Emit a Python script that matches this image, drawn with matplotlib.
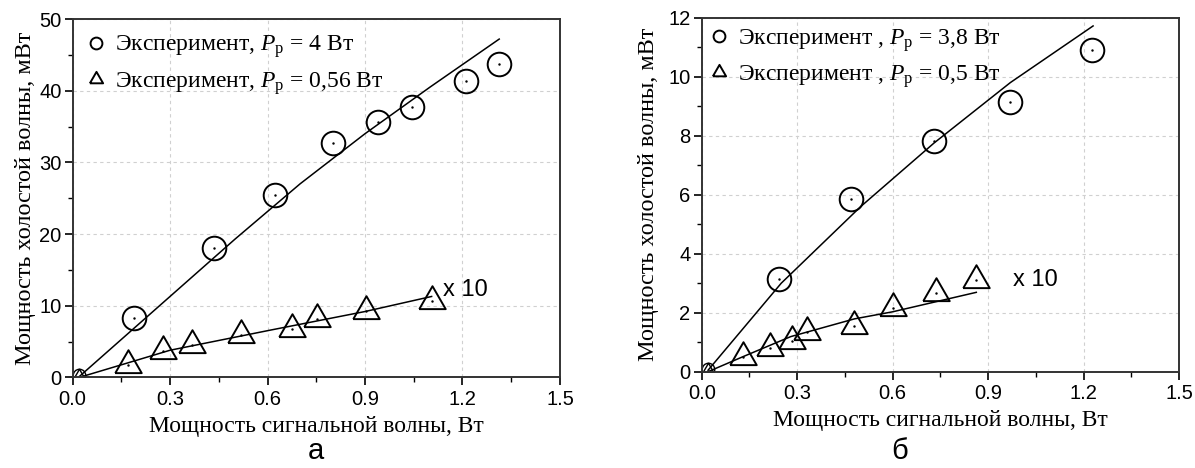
import numpy as np
import matplotlib
matplotlib.use("Agg")
import matplotlib.pyplot as plt
from matplotlib.ticker import MultipleLocator

plt.rcParams["mathtext.fontset"] = "custom"
plt.rcParams["mathtext.rm"] = "Liberation Serif"
plt.rcParams["mathtext.it"] = "Liberation Serif:italic"

SERIF = "Liberation Serif"
SANS = "Liberation Sans"

# panel (а): pump 4 W and 0.56 W (the latter scaled x10)
a_circ_x = [0.19, 0.436, 0.623, 0.80, 0.939, 1.046, 1.21, 1.313]
a_circ_y = [8.3, 18.0, 25.4, 32.7, 35.7, 37.7, 41.4, 43.7]
a_tri_x = [0.170, 0.279, 0.369, 0.519, 0.676, 0.751, 0.902, 1.105]
a_tri_y = [1.8, 3.7, 4.6, 5.9, 6.8, 8.2, 9.3, 10.7]
a_fit_circ_x = [0.02, 0.5, 0.7, 0.9, 1.1, 1.313]
a_fit_circ_y = [0.1, 19.3, 27.0, 34.0, 40.5, 47.2]
a_fit_tri_x = [0.02, 0.3, 0.608, 0.9, 1.105]
a_fit_tri_y = [0.0, 3.8, 6.6, 9.2, 11.3]

# panel (б): pump 3.8 W and 0.5 W (the latter scaled x10)
b_circ_x = [0.244, 0.468, 0.729, 0.968, 1.228]
b_circ_y = [3.14, 5.84, 7.83, 9.15, 10.9]
b_tri_x = [0.129, 0.214, 0.283, 0.33, 0.479, 0.60, 0.735, 0.863]
b_tri_y = [0.5, 0.79, 1.05, 1.34, 1.56, 2.15, 2.66, 3.11]
b_fit_circ_x = [0.02, 0.25, 0.5, 0.73, 0.97, 1.23]
b_fit_circ_y = [0.05, 3.0, 5.6, 7.75, 9.8, 11.72]
b_fit_tri_x = [0.02, 0.13, 0.28, 0.48, 0.6, 0.863]
b_fit_tri_y = [0.0, 0.51, 1.19, 1.79, 2.03, 2.69]

# equilateral triangle, centred on its centroid
TRI = [(-1.0, -0.577), (1.0, -0.577), (0.0, 1.155), (-1.0, -0.577)]

fig = plt.figure(figsize=(11.95, 4.68), dpi=100)
ax_a = fig.add_axes([0.0607, 0.1934, 0.4079, 0.766])
ax_b = fig.add_axes([0.5872, 0.2058, 0.3994, 0.7564])


def draw_panel(ax, cx, cy, tx, ty, fcx, fcy, ftx, fty, zero_y,
               ymax, ymajor, labels, leg_anchor, ylabelpad,
               x10_pos, caption, cap_x):
    ax.plot(fcx, fcy, color="black", lw=1.1)
    ax.plot(ftx, fty, color="black", lw=1.1)
    hc, = ax.plot(cx, cy, ls="none", marker="o", ms=17, mfc="none",
                  mec="black", mew=1.4)
    ht, = ax.plot(tx, ty, ls="none", marker=TRI, ms=22, mfc="none",
                  mec="black", mew=1.4)
    ax.plot(cx + tx, cy + ty, ls="none", marker=".", ms=1.5, color="black")
    # partly hidden points sitting at the origin
    ax.plot([0.02], [zero_y], ls="none", marker="o", ms=9, mfc="none",
            mec="black", mew=1.0)
    ax.plot([0.02], [zero_y], ls="none", marker=TRI, ms=9, mfc="none",
            mec="black", mew=1.0)

    ax.set_xlim(0, 1.5)
    ax.set_ylim(0, ymax)
    ax.xaxis.set_major_locator(MultipleLocator(0.3))
    ax.xaxis.set_minor_locator(MultipleLocator(0.15))
    ax.yaxis.set_major_locator(MultipleLocator(ymajor))
    ax.yaxis.set_minor_locator(MultipleLocator(ymajor / 2))
    ax.set_xticklabels([f"{v:.1f}" for v in ax.get_xticks()])
    ax.tick_params(which="major", direction="out", length=6, width=1.2,
                   labelsize=14.5, pad=3)
    ax.tick_params(axis="y", which="major", pad=2)
    ax.tick_params(which="minor", direction="out", length=3.5, width=1.0)
    for lab in ax.get_xticklabels() + ax.get_yticklabels():
        lab.set_fontfamily(SANS)
    for sp in ax.spines.values():
        sp.set_linewidth(1.4)
        sp.set_color("#333333")
    ax.grid(True, which="major", color="#d0d0d0", ls=(0, (3, 3)), lw=0.8)
    ax.set_axisbelow(True)

    ax.set_xlabel("Мощность сигнальной волны, Вт", fontfamily=SERIF,
                  fontsize=17, labelpad=5)
    ax.set_ylabel("Мощность холостой волны, мВт", fontfamily=SERIF,
                  fontsize=17.5, labelpad=ylabelpad)

    ax.legend([hc, ht], labels, loc="upper left", frameon=False,
              bbox_to_anchor=leg_anchor, borderaxespad=0,
              markerscale=0.5, handlelength=0.6, handletextpad=0.5,
              labelspacing=0.4,
              prop={"family": SERIF, "size": 17})

    ax.text(x10_pos[0], x10_pos[1], "x 10", fontfamily=SANS, fontsize=17,
            va="center", ha="left")
    fig.text(cap_x, 0.02, caption, fontfamily=SANS, fontsize=21,
             ha="center", va="baseline")


draw_panel(ax_a, a_circ_x, a_circ_y, a_tri_x, a_tri_y,
           a_fit_circ_x, a_fit_circ_y, a_fit_tri_x, a_fit_tri_y, 0.3,
           50, 10,
           ["Эксперимент, $P_{\\mathrm{р}}$ = 4 Вт",
            "Эксперимент, $P_{\\mathrm{р}}$ = 0,56 Вт"],
           (0.0137, 0.9855), 2,
           (1.14, 12.2), "а", 316 / 1195)

draw_panel(ax_b, b_circ_x, b_circ_y, b_tri_x, b_tri_y,
           b_fit_circ_x, b_fit_circ_y, b_fit_tri_x, b_fit_tri_y, 0.08,
           12, 2,
           ["Эксперимент , $P_{\\mathrm{р}}$ = 3,8 Вт",
            "Эксперимент , $P_{\\mathrm{р}}$ = 0,5 Вт"],
           (0.0015, 1.001), 7,
           (0.978, 3.1), "б", 900 / 1195)

fig.savefig("out.png", dpi=100)
